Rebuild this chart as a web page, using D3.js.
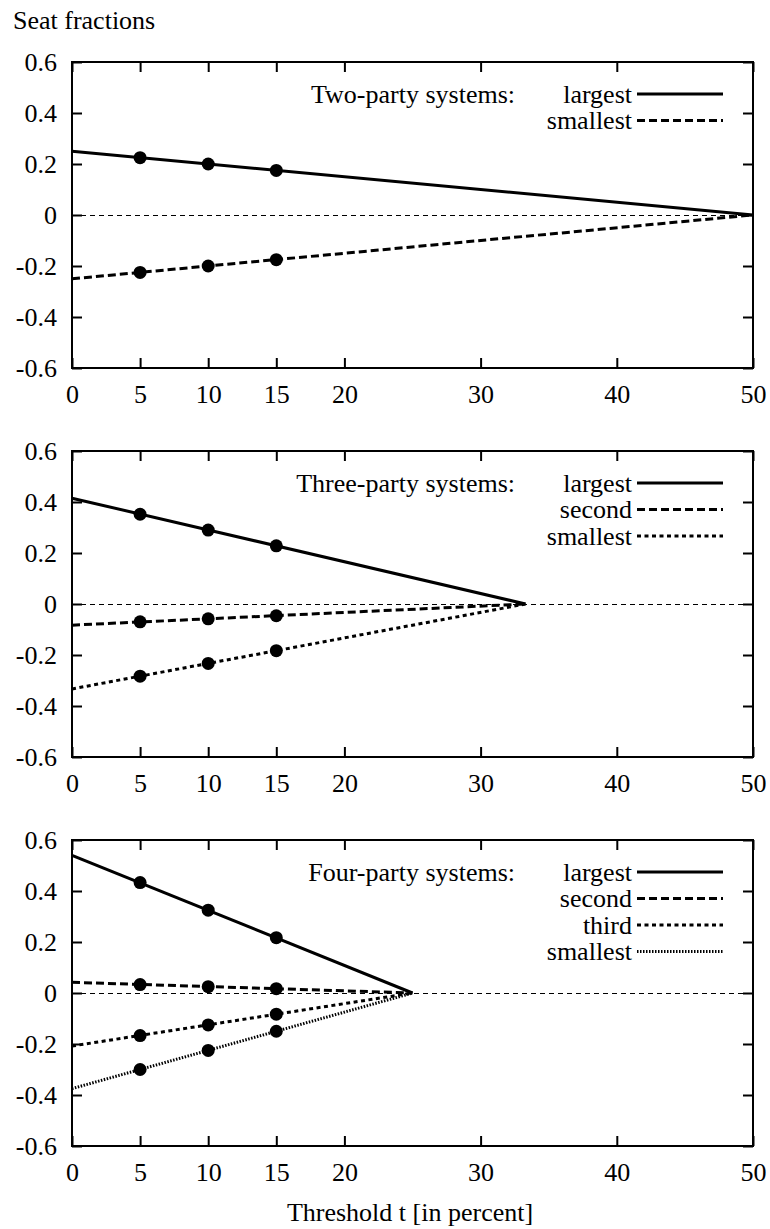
<html>
<head>
<title>Seat fractions vs threshold</title>
<script src="https://cdn.jsdelivr.net/npm/d3@7"></script>
<style>
  body { margin: 0; background: #fff; }
  svg text { font-family: "Liberation Serif", "Times New Roman", Times, "Nimbus Roman", "DejaVu Serif", "Noto Serif", serif; fill: #000; }
</style>
</head>
<body>
<script>
  var width = 770
  var height = 1229

  // ticks
  var tTicks = [0, 5, 10, 15, 20, 30, 40, 50]
  var yTicks = [-0.6, -0.4, -0.2, 0, 0.2, 0.4, 0.6]
  var pointT = [5, 10, 15]

  // two-party panel
  var twoTitle = "Two-party systems:"
  var twoNames = ["largest", "smallest"]
  var twoStart = [0.25, -0.25]          // value at t = 0
  var twoEnd = 50                       // t where the lines meet zero
  var twoPoints = [[0.225, 0.2, 0.175], [-0.225, -0.2, -0.175]]

  // three-party panel
  var threeTitle = "Three-party systems:"
  var threeNames = ["largest", "second", "smallest"]
  var threeStart = [0.415, -0.083, -0.333]
  var threeEnd = 33.3
  var threePoints = [[0.352, 0.29, 0.228], [-0.07, -0.058, -0.046], [-0.283, -0.233, -0.183]]

  // four-party panel
  var fourTitle = "Four-party systems:"
  var fourNames = ["largest", "second", "third", "smallest"]
  var fourStart = [0.54, 0.042, -0.208, -0.375]
  var fourEnd = 25
  var fourPoints = [[0.433, 0.325, 0.217], [0.033, 0.025, 0.017], [-0.167, -0.125, -0.083], [-0.3, -0.225, -0.15]]

  var dashes = [null, "8,4", "4,3.5", "1.5,1.5"]

  var panels = [
    { title: twoTitle, names: twoNames, start: twoStart, end: twoEnd, points: twoPoints, top: 62 },
    { title: threeTitle, names: threeNames, start: threeStart, end: threeEnd, points: threePoints, top: 451 },
    { title: fourTitle, names: fourNames, start: fourStart, end: fourEnd, points: fourPoints, top: 840 }
  ]
  var panelH = 306
  var fs = 26
  var serif = '"Liberation Serif", "Times New Roman", Times, "Nimbus Roman", "DejaVu Serif", serif'

  var svg = d3.select("body").append("svg")
    .attr("width", width)
    .attr("height", height)

  var x = d3.scaleLinear().domain([0, 50]).range([72, 753])

  svg.append("text")
    .attr("x", 13).attr("y", 29)
    .attr("font-size", fs + "px")
    .style("font-family", serif)
    .text("Seat fractions")

  panels.forEach(function (p) {
    var y = d3.scaleLinear().domain([-0.6, 0.6]).range([p.top + panelH, p.top])
    var g = svg.append("g")
    var fmt = function (d) { return String(d) }

    // zero line
    g.append("line")
      .attr("x1", x(0)).attr("x2", x(50))
      .attr("y1", y(0) + 0.5).attr("y2", y(0) + 0.5)
      .attr("stroke", "#000").attr("stroke-width", 1)
      .attr("stroke-dasharray", "5,4")

    // axes, ticks pointing inward
    var bottom = g.append("g").attr("transform", "translate(0," + y(-0.6) + ")")
      .call(d3.axisBottom(x).tickValues(tTicks).tickSize(-10).tickPadding(17).tickFormat(fmt))
    var top = g.append("g").attr("transform", "translate(0," + y(0.6) + ")")
      .call(d3.axisTop(x).tickValues(tTicks).tickSize(-10).tickFormat(""))
    var left = g.append("g").attr("transform", "translate(" + x(0) + ",0)")
      .call(d3.axisLeft(y).tickValues(yTicks).tickSize(-10).tickPadding(15).tickFormat(fmt))
    var right = g.append("g").attr("transform", "translate(" + x(50) + ",0)")
      .call(d3.axisRight(y).tickValues(yTicks).tickSize(-10).tickFormat(""))
    ;[bottom, top, left, right].forEach(function (a) {
      a.attr("font-family", null).attr("font-size", null)
      a.select(".domain").remove()
      a.selectAll(".tick line").attr("stroke", "#000").attr("stroke-width", 2)
      a.selectAll("text").attr("font-size", fs + "px").style("font-family", serif)
    })

    g.append("rect")
      .attr("x", x(0)).attr("y", y(0.6))
      .attr("width", x(50) - x(0)).attr("height", y(-0.6) - y(0.6))
      .attr("fill", "none").attr("stroke", "#000").attr("stroke-width", 2)

    // series
    var line = d3.line().x(function (d) { return x(d[0]) }).y(function (d) { return y(d[1]) })
    p.names.forEach(function (name, i) {
      var pts = [[0, p.start[i]], [p.end, 0]]
      g.append("path")
        .attr("d", line(pts))
        .attr("fill", "none").attr("stroke", "#000").attr("stroke-width", 3)
        .attr("stroke-dasharray", dashes[i])
      g.selectAll(null).data(p.points[i]).enter().append("circle")
        .attr("cx", function (d, j) { return x(pointT[j]) })
        .attr("cy", function (d) { return y(d) })
        .attr("r", 6.5)
        .attr("fill", "#000")

      // key
      var ky = p.top + 32 + i * 26.5
      g.append("text")
        .attr("x", 632).attr("y", ky).attr("dy", "0.33em")
        .attr("text-anchor", "end").attr("font-size", fs + "px")
        .style("font-family", serif)
        .text(name)
      g.append("line")
        .attr("x1", 637).attr("x2", 723).attr("y1", ky).attr("y2", ky)
        .attr("stroke", "#000").attr("stroke-width", 3)
        .attr("stroke-dasharray", dashes[i])
    })
    g.append("text")
      .attr("x", 515).attr("y", p.top + 32).attr("dy", "0.33em")
      .attr("text-anchor", "end").attr("font-size", fs + "px")
      .style("font-family", serif)
      .text(p.title)
  })

  svg.append("text")
    .attr("x", 410).attr("y", 1221)
    .attr("text-anchor", "middle")
    .attr("font-size", fs + "px")
    .style("font-family", serif)
    .text("Threshold t [in percent]")
</script>
</body>
</html>
